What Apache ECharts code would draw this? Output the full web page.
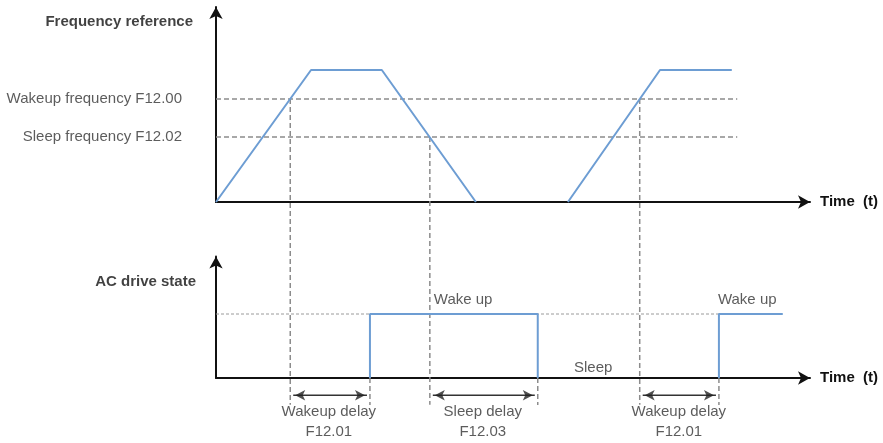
<!DOCTYPE html>
<html>
<head>
<meta charset="utf-8">
<script src="https://cdn.jsdelivr.net/npm/echarts@6/dist/echarts.min.js"></script>
<style>
html,body{margin:0;padding:0;background:#fff;}
#c{width:883px;height:443px;}
</style>
</head>
<body>
<div id="c"></div>
<script>
// ---- data (time in arbitrary units, 0..120) ----
const rampUp1 = [[0, 0], [19.2, 67.7], [33.5, 67.7], [52.5, 0]];
const rampUp2 = [[71.1, 0], [89.7, 67.7], [104.2, 67.7]];
const wakeFreq = 52.8;
const sleepFreq = 33.3;
const refLineEnd = 105.3;
const crossTimes = [15.0, 43.2, 85.6];
const crossLevels = [52.8, 33.3, 52.8];
const guideBottom = -104;
const stateSeg1 = [[31.1, 0], [31.1, 1], [65.0, 1], [65.0, 0]];
const stateSeg2 = [[101.6, 0], [101.6, 1], [114.5, 1]];
const wakeLevel = 1;
const wakeLevelEnd = 101.6;
const delayEnds = [31.1, 65.0, 101.6];
const delaySpans = [[15.0, 31.1], [43.2, 65.0], [85.6, 101.6]];
const arrowY = -0.27;
const delayLabels = ['Wakeup delay\nF12.01', 'Sleep delay\nF12.03', 'Wakeup delay\nF12.01'];
const delayLabelX = [22.8, 53.9, 93.5];
const stateLabels = [['Wake up', 44.0, 1.22], ['Wake up', 101.4, 1.22]];
const sleepLabel = ['Sleep', 76.2, 0.16];

const BLUE = '#6d9dd3';
const GRAY = '#8c8c8c';
const TXT = '#333';
const FONT = '"Liberation Sans", Arial, sans-serif';

const axisLine = {show: true, lineStyle: {color: '#111', width: 2}, symbol: ['none', 'arrow'], symbolSize: [10, 12]};
function xAx(gi, name) {
  return {type: 'value', gridIndex: gi, min: 0, max: 120, axisLine: axisLine,
    axisTick: {show: false}, axisLabel: {show: false}, splitLine: {show: false},
    name: name, nameLocation: 'end', nameGap: 10,
    nameTextStyle: {fontFamily: FONT, fontSize: 15, fontWeight: 'bold', color: '#111', verticalAlign: 'middle'}};
}
function yAx(gi, max) {
  return {type: 'value', gridIndex: gi, min: 0, max: max, axisLine: axisLine,
    axisTick: {show: false}, axisLabel: {show: false}, splitLine: {show: false}};
}
const dashed = {color: GRAY, width: 1.5, type: [5, 3]};

const series = [];
// top: horizontal reference lines
[wakeFreq, sleepFreq].forEach(v => series.push({type: 'line', xAxisIndex: 0, yAxisIndex: 0, symbol: 'none', silent: true,
  data: [[0, v], [refLineEnd, v]], lineStyle: dashed, z: 1}));
// vertical guides across both panels
crossTimes.forEach((t, i) => series.push({type: 'line', xAxisIndex: 0, yAxisIndex: 0, symbol: 'none', silent: true, clip: false,
  data: [[t, crossLevels[i]], [t, guideBottom]], lineStyle: dashed, z: 1}));
// frequency curve
[rampUp1, rampUp2].forEach(d => series.push({type: 'line', xAxisIndex: 0, yAxisIndex: 0, symbol: 'none', silent: true,
  data: d, lineStyle: {color: BLUE, width: 2}, z: 3}));
// left labels top
series.push({type: 'scatter', xAxisIndex: 0, yAxisIndex: 0, symbolSize: 0, silent: true, clip: false,
  data: [
    {value: [0, wakeFreq], label: {formatter: 'Wakeup frequency F12.00', distance: 34}},
    {value: [0, sleepFreq], label: {formatter: 'Sleep frequency F12.02', distance: 34}},
    {value: [0, 92.3], label: {formatter: 'Frequency reference', distance: 23, fontWeight: 'bold', color: '#111'}}
  ],
  label: {show: true, position: 'left', fontFamily: FONT, fontSize: 15, color: TXT}});

// bottom: wake level dotted line
series.push({type: 'line', xAxisIndex: 1, yAxisIndex: 1, symbol: 'none', silent: true,
  data: [[0, wakeLevel], [wakeLevelEnd, wakeLevel]], lineStyle: {color: '#9a9a9a', width: 1, type: [3, 2]}, z: 1});
// short guides below delay ends
delayEnds.forEach(t => series.push({type: 'line', xAxisIndex: 1, yAxisIndex: 1, symbol: 'none', silent: true, clip: false,
  data: [[t, 0], [t, -0.42]], lineStyle: dashed, z: 1}));
// state
[stateSeg1, stateSeg2].forEach(d => series.push({type: 'line', xAxisIndex: 1, yAxisIndex: 1, symbol: 'none', silent: true,
  data: d, lineStyle: {color: BLUE, width: 2}, z: 3}));
// delay arrows: shafts
delaySpans.forEach(s => series.push({type: 'line', xAxisIndex: 1, yAxisIndex: 1, symbol: 'none', silent: true, clip: false,
  data: [[s[0] + 0.6, arrowY], [s[1] - 0.6, arrowY]], lineStyle: {color: '#333', width: 1.5}, z: 2}));
// delay arrows: heads
series.push({type: 'scatter', xAxisIndex: 1, yAxisIndex: 1, silent: true, clip: false, symbol: 'arrow', symbolSize: [8, 10],
  itemStyle: {color: '#222'}, z: 4,
  data: delaySpans.flatMap(s => [
    {value: [s[0] + 1.0, arrowY], symbolRotate: 90},
    {value: [s[1] - 1.0, arrowY], symbolRotate: -90}
  ])});
// bottom labels
series.push({type: 'scatter', xAxisIndex: 1, yAxisIndex: 1, symbolSize: 0, silent: true, clip: false,
  data: [
    ...delayLabels.map((l, i) => ({value: [delayLabelX[i], -0.69], label: {formatter: l, position: 'inside', align: 'center', lineHeight: 20}})),
    ...stateLabels.map(s => ({value: [s[1], s[2]], label: {formatter: s[0], position: 'right', distance: 0}})),
    {value: [sleepLabel[1], sleepLabel[2]], label: {formatter: sleepLabel[0], position: 'inside', align: 'center'}},
    {value: [0, 1.5], label: {formatter: 'AC drive state', position: 'left', distance: 20, fontWeight: 'bold', color: '#111'}}
  ],
  label: {show: true, fontFamily: FONT, fontSize: 15, color: TXT}});

const chart = echarts.init(document.getElementById('c'), null, {renderer: 'canvas'});
chart.setOption({
  animation: false,
  backgroundColor: '#fff',
  grid: [
    {left: 216, right: 73, top: 7, bottom: 241},
    {left: 216, right: 73, top: 256.4, bottom: 65}
  ],
  xAxis: [xAx(0, 'Time  (t)'), xAx(1, 'Time  (t)')],
  yAxis: [yAx(0, 100), yAx(1, 1.9)],
  series: series
});
</script>
</body>
</html>
